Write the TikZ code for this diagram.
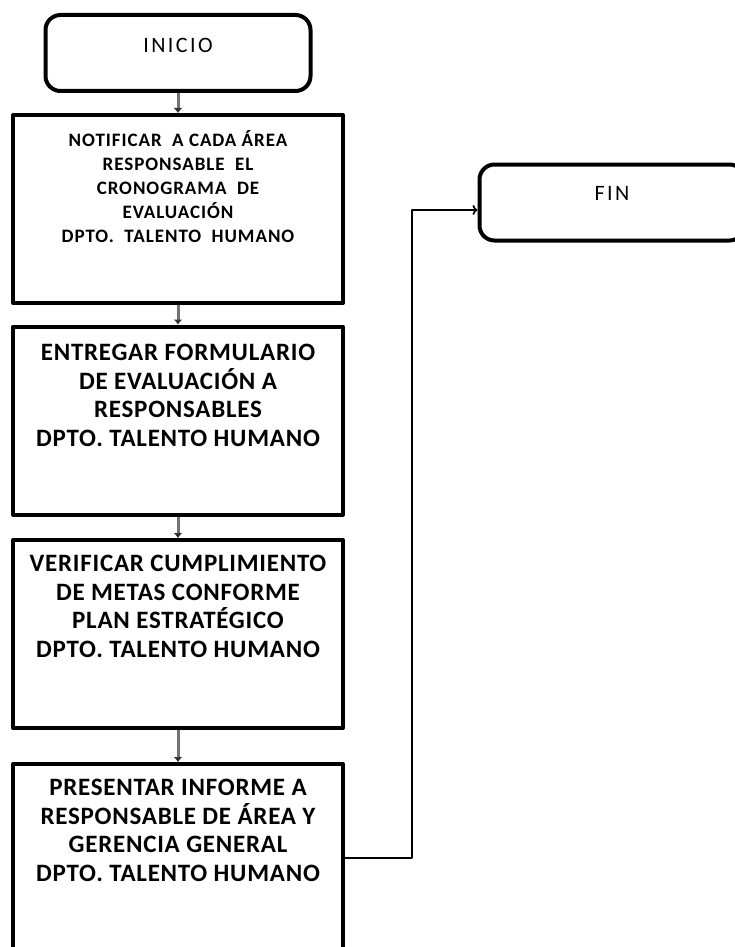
\documentclass[tikz,border=0pt]{standalone}
\usepackage{fontspec}
\setmainfont{Carlito}
\usetikzlibrary{arrows.meta}
\tikzset{
  endbox/.style={draw,line width=4pt,rounded corners=15pt,minimum width=265pt,minimum height=76pt},
  stepbox/.style={draw,line width=4pt,minimum width=330pt,minimum height=188pt},
  flowarrow/.style={draw=black!55,line width=3pt,-{Latex[length=5pt,width=9pt,color=black!80]}},
  endarrow/.style={line width=1.8pt,-{To[length=5pt,width=10pt]}},
  endtext/.style={font=\fontsize{22}{26}\selectfont\addfontfeature{LetterSpace=11}},
  smalltext/.style={align=center,font=\bfseries\fontsize{19}{24}\selectfont\addfontfeature{LetterSpace=5}},
  bigtext/.style={align=center,font=\bfseries\fontsize{25}{28.5}\selectfont\addfontfeature{LetterSpace=3}},
}
\begin{document}
\begin{tikzpicture}[x=1pt,y=-1pt,line join=round]
  \useasboundingbox (0,0) rectangle (735,947);
  % start and end
  \node[endbox] (inicio) at (178,53) {};
  \node[endbox] (fin) at (612,202.5) {};
  \node[endtext] (tinicio) at (178,45) {INICIO};
  \node[endtext] (tfin) at (612,193) {FIN};
  % steps
  \foreach \n/\y in {b1/209,b2/420.5,b3/634,b4/858}{
    \node[stepbox] (\n) at (178,\y) {};
  }
  \node[smalltext] (t1) at (178,186.5) {NOTIFICAR~ A CADA ÁREA\\RESPONSABLE~ EL\\CRONOGRAMA~ DE\\EVALUACIÓN\\DPTO.~ TALENTO~ HUMANO};
  \node[bigtext] (t2) at (178,395.5) {ENTREGAR FORMULARIO\\DE EVALUACIÓN A\\RESPONSABLES\\DPTO. TALENTO HUMANO};
  \node[bigtext] (t3) at (178,606.5) {VERIFICAR CUMPLIMIENTO\\DE METAS CONFORME\\PLAN ESTRATÉGICO\\DPTO. TALENTO HUMANO};
  \node[bigtext] (t4) at (178,830.5) {PRESENTAR INFORME A\\RESPONSABLE DE ÁREA Y\\GERENCIA GENERAL\\DPTO. TALENTO HUMANO};
  % connectors
  \draw[flowarrow] (inicio) -- (b1);
  \draw[flowarrow] (b1) -- (b2);
  \draw[flowarrow] (b2) -- (b3);
  \draw[flowarrow] (b3) -- (b4);
  \draw[endarrow] (b4.east) -- ++(67,0) |- ([yshift=-7.5pt]fin.west);
\end{tikzpicture}
\end{document}
